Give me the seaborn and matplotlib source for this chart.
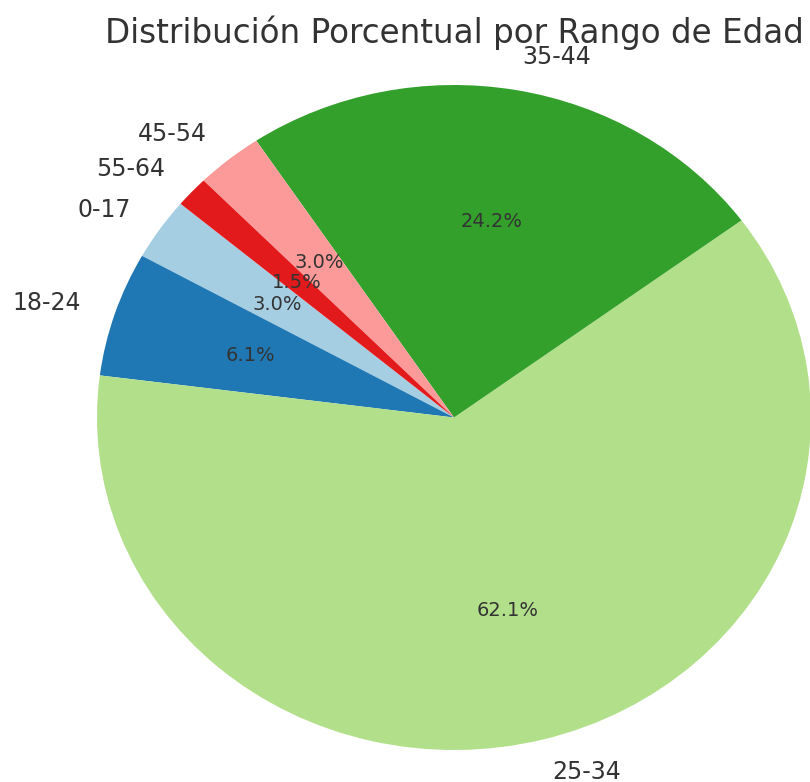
import matplotlib.pyplot as plt
import seaborn as sns

# datos por rango de edad
rangos = ["0-17", "18-24", "25-34", "35-44", "45-54", "55-64"]
cantidad = [2, 4, 41, 16, 2, 1]

sns.set_style("white")
plt.rcParams["text.color"] = "#333333"
colores = sns.color_palette("Paired", len(rangos))

fig = plt.figure(figsize=(8.1, 7.82), dpi=100)
# posicion del eje para que la torta quede como en la imagen (un poco ovalada)
ax = fig.add_axes([97 / 810, 32 / 782, 714 / 810, 665 / 782])
wedges, textos, autotextos = ax.pie(cantidad, labels=rangos, colors=colores,
                                    autopct="%1.1f%%", startangle=140,
                                    wedgeprops={"linewidth": 0, "edgecolor": "none"},
                                    textprops={"fontsize": 17, "color": "#333333"})
for w in wedges:
    w.set_clip_on(False)
for t in autotextos:
    t.set_fontsize(14)
ax.set_aspect("auto")
ax.set_xlim(-1, 1)
ax.set_ylim(-1, 1)
ax.set_title("Distribución Porcentual por Rango de Edad", fontsize=23.5, pad=30, color="#333333")
plt.savefig("out.png", dpi=100)
